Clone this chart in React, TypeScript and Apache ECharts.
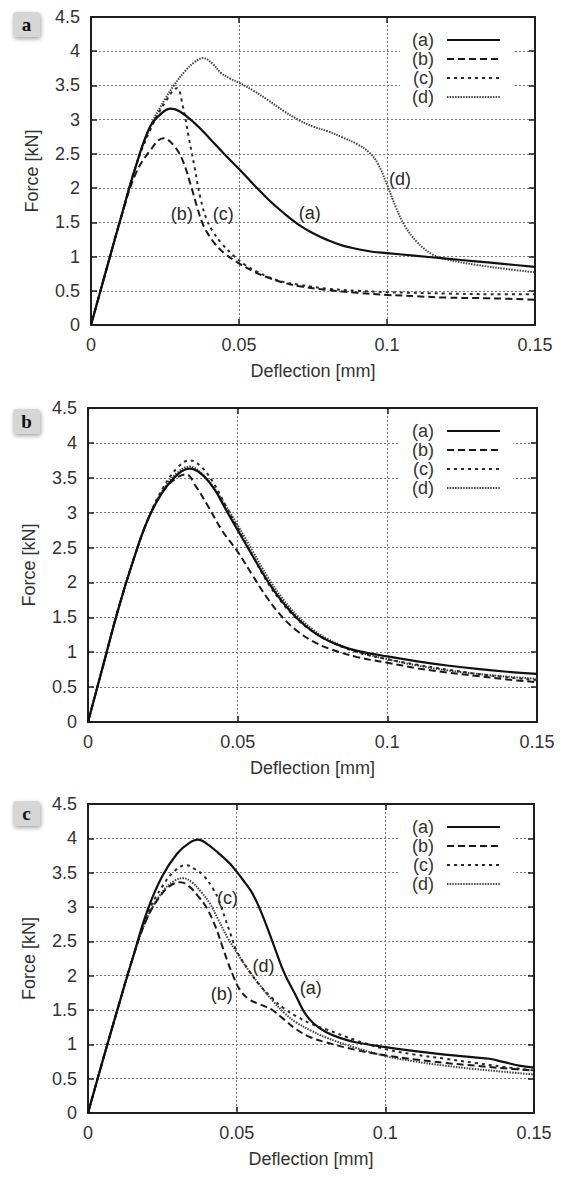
import React, { useEffect, useRef } from "react";
import * as echarts from "echarts";

// ---- axis ranges / ticks ----
const X_MIN = 0;
const X_MAX = 0.15;
const X_STEP = 0.05;
const Y_MIN = 0;
const Y_MAX = 4.5;
const Y_STEP = 0.5;
const X_TITLE = "Deflection [mm]";
const Y_TITLE = "Force [kN]";
const SERIES_NAMES = ["(a)", "(b)", "(c)", "(d)"];
const PANEL_LABELS = ["a", "b", "c"];

// ---- panel a ----
const panelA_a = [[0,0],[0.005,0.78],[0.01,1.55],[0.015,2.3],[0.02,2.9],[0.024,3.1],[0.027,3.16],[0.03,3.12],[0.035,2.95],[0.04,2.73],[0.045,2.5],[0.05,2.28],[0.055,2.05],[0.06,1.83],[0.065,1.64],[0.07,1.47],[0.075,1.34],[0.08,1.24],[0.085,1.16],[0.09,1.11],[0.095,1.07],[0.1,1.05],[0.11,1.01],[0.12,0.97],[0.13,0.93],[0.14,0.89],[0.15,0.85]];
const panelA_b = [[0,0],[0.005,0.78],[0.01,1.55],[0.015,2.2],[0.02,2.55],[0.0245,2.73],[0.028,2.62],[0.031,2.4],[0.034,2.0],[0.036,1.7],[0.038,1.45],[0.04,1.3],[0.042,1.18],[0.045,1.05],[0.05,0.9],[0.055,0.78],[0.06,0.69],[0.065,0.62],[0.07,0.57],[0.08,0.51],[0.09,0.47],[0.1,0.44],[0.11,0.42],[0.12,0.4],[0.135,0.39],[0.15,0.37]];
const panelA_c = [[0,0],[0.005,0.78],[0.01,1.55],[0.015,2.3],[0.02,2.85],[0.025,3.25],[0.029,3.46],[0.031,3.2],[0.033,2.75],[0.035,2.3],[0.037,1.85],[0.039,1.55],[0.041,1.38],[0.044,1.2],[0.048,1.02],[0.052,0.88],[0.056,0.78],[0.06,0.7],[0.065,0.63],[0.07,0.59],[0.08,0.53],[0.09,0.5],[0.1,0.48],[0.12,0.46],[0.135,0.45],[0.15,0.45]];
const panelA_d = [[0,0],[0.005,0.78],[0.01,1.55],[0.015,2.3],[0.02,2.9],[0.025,3.3],[0.028,3.5],[0.032,3.72],[0.035,3.84],[0.038,3.9],[0.041,3.82],[0.044,3.68],[0.047,3.6],[0.05,3.54],[0.055,3.42],[0.06,3.28],[0.065,3.13],[0.07,3.0],[0.075,2.9],[0.08,2.83],[0.085,2.74],[0.09,2.64],[0.094,2.52],[0.097,2.35],[0.1,2.05],[0.103,1.72],[0.106,1.45],[0.11,1.22],[0.115,1.04],[0.12,0.96],[0.13,0.88],[0.14,0.82],[0.15,0.77]];

// ---- panel b ----
const panelB_a = [[0,0],[0.005,0.8],[0.01,1.6],[0.015,2.3],[0.02,2.9],[0.025,3.3],[0.03,3.55],[0.034,3.63],[0.038,3.55],[0.042,3.35],[0.046,3.05],[0.05,2.75],[0.055,2.38],[0.06,2.02],[0.065,1.72],[0.07,1.48],[0.075,1.3],[0.08,1.17],[0.085,1.08],[0.09,1.02],[0.1,0.94],[0.11,0.87],[0.12,0.81],[0.13,0.76],[0.14,0.72],[0.15,0.69]];
const panelB_b = [[0,0],[0.005,0.8],[0.01,1.6],[0.015,2.3],[0.02,2.9],[0.025,3.3],[0.029,3.48],[0.0327,3.55],[0.036,3.38],[0.04,3.1],[0.045,2.73],[0.05,2.44],[0.055,2.1],[0.06,1.77],[0.065,1.5],[0.07,1.3],[0.075,1.16],[0.08,1.06],[0.09,0.93],[0.1,0.85],[0.11,0.77],[0.12,0.71],[0.13,0.66],[0.14,0.61],[0.15,0.57]];
const panelB_c = [[0,0],[0.005,0.8],[0.01,1.6],[0.015,2.3],[0.02,2.9],[0.025,3.35],[0.03,3.65],[0.034,3.75],[0.038,3.65],[0.042,3.42],[0.046,3.1],[0.05,2.78],[0.055,2.38],[0.06,2.0],[0.065,1.7],[0.07,1.47],[0.075,1.3],[0.08,1.17],[0.09,1.0],[0.1,0.9],[0.11,0.82],[0.12,0.75],[0.13,0.69],[0.14,0.64],[0.15,0.6]];
const panelB_d = [[0,0],[0.005,0.8],[0.01,1.6],[0.015,2.3],[0.02,2.9],[0.025,3.32],[0.03,3.58],[0.034,3.66],[0.038,3.56],[0.042,3.36],[0.046,3.1],[0.05,2.82],[0.055,2.45],[0.06,2.08],[0.065,1.77],[0.07,1.52],[0.075,1.33],[0.08,1.19],[0.09,1.01],[0.1,0.9],[0.11,0.81],[0.12,0.74],[0.13,0.69],[0.14,0.65],[0.15,0.62]];

// ---- panel c ----
const panelC_a = [[0,0],[0.005,0.77],[0.01,1.52],[0.015,2.25],[0.02,2.95],[0.025,3.45],[0.03,3.78],[0.034,3.93],[0.037,3.98],[0.04,3.92],[0.044,3.78],[0.048,3.62],[0.052,3.4],[0.055,3.22],[0.058,2.95],[0.062,2.5],[0.066,2.04],[0.07,1.7],[0.073,1.45],[0.076,1.3],[0.08,1.18],[0.085,1.09],[0.09,1.03],[0.1,0.96],[0.11,0.9],[0.12,0.85],[0.13,0.81],[0.135,0.79],[0.14,0.74],[0.145,0.69],[0.15,0.66]];
const panelC_b = [[0,0],[0.005,0.77],[0.01,1.52],[0.015,2.25],[0.02,2.85],[0.025,3.2],[0.028,3.32],[0.031,3.36],[0.034,3.3],[0.037,3.16],[0.04,2.98],[0.043,2.7],[0.045,2.45],[0.047,2.2],[0.049,1.98],[0.051,1.8],[0.054,1.66],[0.058,1.58],[0.062,1.5],[0.066,1.36],[0.07,1.22],[0.075,1.1],[0.08,1.03],[0.09,0.92],[0.1,0.84],[0.11,0.78],[0.12,0.73],[0.13,0.69],[0.14,0.65],[0.15,0.62]];
const panelC_c = [[0,0],[0.005,0.77],[0.01,1.52],[0.015,2.25],[0.02,2.9],[0.025,3.3],[0.029,3.52],[0.033,3.61],[0.036,3.55],[0.039,3.45],[0.042,3.27],[0.044,3.1],[0.046,2.85],[0.048,2.6],[0.05,2.36],[0.054,2.08],[0.058,1.85],[0.062,1.67],[0.066,1.52],[0.07,1.41],[0.075,1.3],[0.08,1.22],[0.09,1.06],[0.1,0.93],[0.11,0.85],[0.12,0.79],[0.13,0.73],[0.14,0.67],[0.15,0.62]];
const panelC_d = [[0,0],[0.005,0.77],[0.01,1.52],[0.015,2.25],[0.02,2.85],[0.025,3.22],[0.029,3.38],[0.032,3.42],[0.035,3.36],[0.038,3.22],[0.041,3.05],[0.044,2.8],[0.047,2.55],[0.05,2.34],[0.054,2.08],[0.058,1.85],[0.062,1.64],[0.066,1.46],[0.07,1.32],[0.075,1.2],[0.08,1.1],[0.09,0.95],[0.1,0.83],[0.11,0.75],[0.12,0.69],[0.13,0.64],[0.14,0.6],[0.15,0.56]];

// ---- curve annotations (data coords) ----
const annotA = [{ x: 0.0307, y: 1.62, t: "(b)" }, { x: 0.0447, y: 1.62, t: "(c)" }, { x: 0.0739, y: 1.64, t: "(a)" }, { x: 0.1044, y: 2.13, t: "(d)" }];
const annotB: { x: number; y: number; t: string }[] = [];
const annotC = [{ x: 0.0469, y: 3.13, t: "(c)" }, { x: 0.059, y: 2.14, t: "(d)" }, { x: 0.045, y: 1.74, t: "(b)" }, { x: 0.0749, y: 1.82, t: "(a)" }];

const PANEL_DATA = [
  [panelA_a, panelA_b, panelA_c, panelA_d],
  [panelB_a, panelB_b, panelB_c, panelB_d],
  [panelC_a, panelC_b, panelC_c, panelC_d],
];
const PANEL_ANNOT = [annotA, annotB, annotC];

// ---- layout / style ----
const GRIDS = [
  { left: 91, top: 17, width: 444, height: 308 },
  { left: 88, top: 408, width: 449, height: 314 },
  { left: 88, top: 804, width: 446, height: 309 },
];
const LINE_STYLES: any[] = [
  { type: "solid", width: 2.2, color: "#111" },
  { type: [7, 4], width: 2, color: "#1a1a1a" },
  { type: [3, 4], width: 2, color: "#2a2a2a" },
  { type: [1.5, 1.2], width: 2, color: "#444" },
];
const FONT = "'Liberation Sans', Arial, sans-serif";
const FS = 18;
const TEXT_COLOR = "#333";
const FRAME_COLOR = "#1e1e1e";

function buildOption() {
  const grid: any[] = [];
  const xAxis: any[] = [];
  const yAxis: any[] = [];
  const series: any[] = [];
  const legend: any[] = [];
  const graphic: any[] = [];

  GRIDS.forEach((g, i) => {
    grid.push({ left: g.left, top: g.top, width: g.width, height: g.height, containLabel: false });
    const frameLine = { show: true, onZero: false, lineStyle: { color: FRAME_COLOR, width: 2 } };
    const tick = { show: true, inside: true, length: 6, lineStyle: { color: FRAME_COLOR, width: 1.5 } };
    xAxis.push({
      type: "value", gridIndex: i, position: "bottom", min: X_MIN, max: X_MAX, interval: X_STEP,
      axisLine: frameLine, axisTick: tick,
      axisLabel: { color: TEXT_COLOR, fontSize: FS, fontFamily: FONT, margin: 11, formatter: (v: number) => String(+v.toFixed(3)) },
      splitLine: { show: true, lineStyle: { color: "#7a7a7a", width: 1, type: [2, 2] } },
      name: X_TITLE, nameLocation: "middle", nameGap: 37,
      nameTextStyle: { color: TEXT_COLOR, fontSize: FS, fontFamily: FONT },
    });
    xAxis.push({
      type: "value", gridIndex: i, position: "top", min: X_MIN, max: X_MAX, interval: X_STEP,
      axisLine: frameLine, axisTick: tick, axisLabel: { show: false }, splitLine: { show: false },
    });
    yAxis.push({
      type: "value", gridIndex: i, position: "left", min: Y_MIN, max: Y_MAX, interval: Y_STEP,
      axisLine: frameLine, axisTick: tick,
      axisLabel: { color: TEXT_COLOR, fontSize: FS, fontFamily: FONT, margin: 11, formatter: (v: number) => String(+v.toFixed(2)) },
      splitLine: { show: true, lineStyle: { color: "#7a7a7a", width: 1, type: [2, 2] } },
      name: Y_TITLE, nameLocation: "middle", nameGap: 50,
      nameTextStyle: { color: TEXT_COLOR, fontSize: FS, fontFamily: FONT },
    });
    yAxis.push({
      type: "value", gridIndex: i, position: "right", min: Y_MIN, max: Y_MAX, interval: Y_STEP,
      axisLine: frameLine, axisTick: tick, axisLabel: { show: false }, splitLine: { show: false },
    });

    PANEL_DATA[i].forEach((d, k) => {
      series.push({
        type: "line", name: SERIES_NAMES[k], xAxisIndex: 2 * i, yAxisIndex: 2 * i,
        data: d, symbol: "none", smooth: 0.4, lineStyle: LINE_STYLES[k], itemStyle: { color: LINE_STYLES[k].color }, z: 5 - k,
      });
    });
    if (PANEL_ANNOT[i].length) {
      series.push({
        type: "scatter", name: "annot" + i, xAxisIndex: 2 * i, yAxisIndex: 2 * i,
        symbolSize: 1, itemStyle: { color: "rgba(0,0,0,0)" }, silent: true, z: 10,
        data: PANEL_ANNOT[i].map((p) => ({ value: [p.x, p.y], name: p.t })),
        label: {
          show: true, position: "inside", formatter: "{b}", color: "#2a2a2a", fontSize: FS, fontFamily: FONT,
          textBorderWidth: 0, textBorderColor: "transparent", opacity: 1,
        },
      });
    }

    legend.push({
      data: SERIES_NAMES, orient: "vertical", align: "right", left: 400, top: g.top + 11,
      padding: [3, 12, 3, 12], backgroundColor: "#fff", itemWidth: 53, itemHeight: 14, itemGap: 1,
      itemStyle: { opacity: 0, color: "rgba(0,0,0,0)", borderWidth: 0 },
      textStyle: { color: TEXT_COLOR, fontSize: FS, fontFamily: FONT, lineHeight: 14, padding: [0, 8, 0, 0] },
      selectedMode: false, z: 20,
    });

    graphic.push({
      type: "group", left: 13, top: [12, 409, 801][i],
      children: [
        { type: "rect", shape: { x: 0, y: 0, width: 27, height: 25, r: 3 },
          style: { fill: "#d6d6d6", shadowBlur: 4, shadowColor: "rgba(0,0,0,0.35)", shadowOffsetX: 1, shadowOffsetY: 2 } },
        { type: "text", x: 13.5, y: 12.5,
          style: { text: PANEL_LABELS[i], fill: "#111", font: "bold 19px 'Liberation Serif', 'DejaVu Serif', serif", align: "center", verticalAlign: "middle" } },
      ],
    });
  });

  return { animation: false, backgroundColor: "#fff", grid, xAxis, yAxis, series, legend, graphic };
}

export default function App() {
  const ref = useRef<HTMLDivElement>(null);
  useEffect(() => {
    if (!ref.current) return;
    const chart = echarts.init(ref.current, undefined, { renderer: "svg" });
    chart.setOption(buildOption() as any);
    return () => chart.dispose();
  }, []);
  return <div ref={ref} style={{ position: "absolute", left: 0, top: 0, width: 565, height: 1180 }} />;
}
